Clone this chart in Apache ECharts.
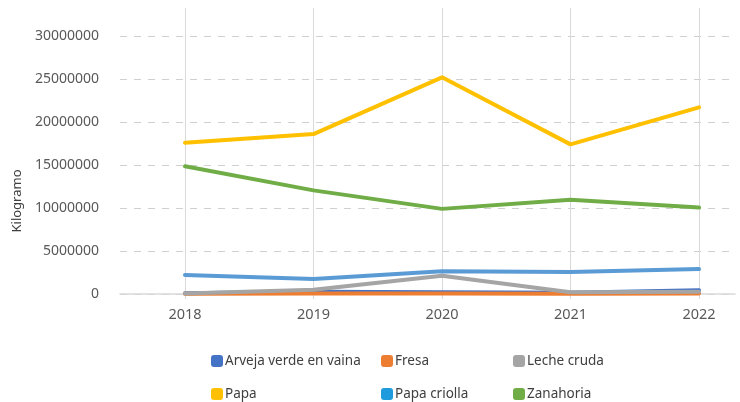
<!DOCTYPE html>
<html>
<head>
<meta charset="utf-8">
<script src="https://cdn.jsdelivr.net/npm/echarts@6/dist/echarts.min.js"></script>
<style>
  html, body { margin: 0; padding: 0; background: #fff; }
  #chart { width: 740px; height: 402px; }
</style>
</head>
<body>
<div id="chart"></div>
<script>
  // años (eje x)
  var years = ['2018', '2019', '2020', '2021', '2022'];

  // valores en kilogramos
  var arveja = [100000, 250000, 200000, 150000, 450000];
  var fresa = [30000, 50000, 50000, 40000, 50000];
  var leche = [50000, 500000, 2130000, 200000, 250000];
  var papa = [17600000, 18600000, 25200000, 17400000, 21700000];
  var papaCriolla = [2200000, 1750000, 2650000, 2550000, 2900000];
  var zanahoria = [14850000, 12050000, 9900000, 10950000, 10050000];

  var names = ['Arveja verde en vaina', 'Fresa', 'Leche cruda', 'Papa', 'Papa criolla', 'Zanahoria'];
  var colors = ['#4472C4', '#ED7D31', '#A5A5A5', '#FFC000', '#5B9BD5', '#70AD47'];
  var legendColors = ['#4472C4', '#ED7D31', '#A5A5A5', '#FFC000', '#1E9BDC', '#70AD47'];
  var values = [arveja, fresa, leche, papa, papaCriolla, zanahoria];

  var chart = echarts.init(document.getElementById('chart'));
  var font = '"Noto Sans", "Open Sans", sans-serif';

  // posiciones de la leyenda (3 columnas x 2 filas)
  var legendLeft = [211, 381, 513];
  var legendTop = [354, 387];

  var legends = names.map(function (n, i) {
    return {
      left: legendLeft[i % 3],
      top: legendTop[Math.floor(i / 3)],
      padding: 0,
      icon: 'roundRect',
      itemWidth: 12,
      itemHeight: 12,
      textStyle: { fontFamily: font, fontSize: 13.5, color: '#404040', padding: [0, 0, 0, -3] },
      data: [{ name: n, itemStyle: { color: legendColors[i] } }],
      selectedMode: false
    };
  });

  var series = names.map(function (n, i) {
    return {
      name: n,
      type: 'line',
      xAxisIndex: 1,
      yAxisIndex: 1,
      data: values[i],
      symbol: 'none',
      lineStyle: { width: 4, color: colors[i], cap: 'round' },
      itemStyle: { color: colors[i] },
      animation: false
    };
  });

  var option = {
    backgroundColor: '#fff',
    legend: legends,
    grid: [
      { left: 120, right: 5, top: 36, bottom: 108 },
      { left: 185, right: 41, top: 8, bottom: 108 }
    ],
    xAxis: [
      {
        type: 'category',
        gridIndex: 0,
        data: years,
        axisLine: { show: true, lineStyle: { color: '#d9d9d9', width: 1.5 } },
        axisTick: { show: false },
        axisLabel: { show: false },
        splitLine: { show: false }
      },
      {
        type: 'category',
        gridIndex: 1,
        data: years,
        boundaryGap: false,
        axisLine: { show: false },
        axisTick: { show: true, length: 5, lineStyle: { color: '#d9d9d9' } },
        axisLabel: { margin: 13, fontFamily: font, fontSize: 14.5, color: '#595959' },
        splitLine: { show: true, lineStyle: { color: '#d9d9d9', width: 1 } }
      }
    ],
    yAxis: [
      {
        type: 'value',
        gridIndex: 0,
        min: 0,
        max: 30000000,
        interval: 5000000,
        axisLine: { show: false },
        axisTick: { show: false },
        axisLabel: {
          margin: 21,
          fontFamily: font,
          fontSize: 14,
          color: '#595959',
          formatter: function (v) { return String(v); }
        },
        splitLine: { show: true, lineStyle: { color: '#d0d0d0', type: [7, 7], width: 1 } }
      },
      {
        type: 'value',
        gridIndex: 1,
        min: 0,
        max: 33260000,
        show: false,
        splitLine: { show: false }
      }
    ],
    graphic: [
      {
        type: 'text',
        x: 17,
        y: 201,
        rotation: Math.PI / 2,
        style: {
          text: 'Kilogramo',
          fontFamily: font,
          fontSize: 13,
          fill: '#404040',
          align: 'center',
          verticalAlign: 'middle'
        }
      }
    ],
    series: series
  };

  chart.setOption(option);
</script>
</body>
</html>
